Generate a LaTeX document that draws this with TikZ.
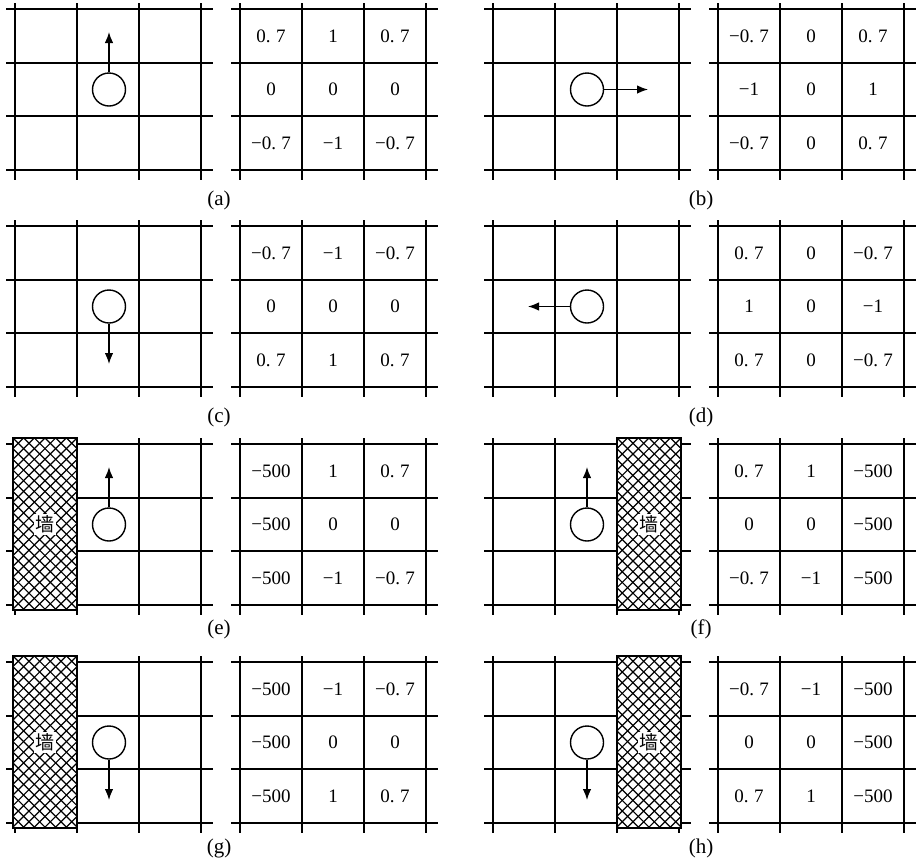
\documentclass[tikz,border=0pt]{standalone}
\usepackage{fontspec}
\setmainfont{Liberation Serif}
\newfontfamily\cjk{Noto Sans CJK SC}
\usetikzlibrary{arrows.meta}
\newcommand\sev{0.\kern0.28em7}
\newcommand\gridlines{\foreach \i/\yy in {0/0,1/54,2/107,3/161}{\draw[gridline] ({62*\i},-6) -- ({62*\i},171); \draw[gridline] (-9,\yy) -- (198,\yy);}}
\newcommand\tblrow[3]{\foreach \v [count=\i] in {#3}{\node[val] (#1-#2-\i) at ({31+62*(\i-1)},{27+53.67*(#2-1)}) {\v};}}
\newcommand\wallblock[2]{%
  \fill[white] (#1,-6) rectangle ++(64,172);
  \begin{scope}
    \clip (#1,-6) rectangle ++(64,172);
    \foreach \k in {-17,...,6}{%
      \draw[hatch] ({#1+10.7*\k},-6) -- ++(200,200);
      \draw[hatch] ({#1+64-10.7*\k},-6) -- ++(-200,200);}
  \end{scope}
  \draw[line width=1.5pt] (#1,-6) rectangle ++(64,172);
  \node[walltext] (#2) at ({#1+32},80.5) {墙};}
\begin{document}
\begin{tikzpicture}[x=1pt,y=-1pt,
  gridline/.style={line width=1.9pt},
  val/.style={font=\fontsize{19}{21}\selectfont, inner sep=0pt},
  lab/.style={font=\fontsize{21}{23}\selectfont, inner sep=0pt},
  agent/.style={circle, draw, line width=1.4pt, minimum size=33pt, inner sep=0pt},
  arr/.style={line width=1.3pt, -{Latex[length=11pt,width=8.5pt]}},
  hatch/.style={line width=1.2pt},
  walltext/.style={font=\cjk\fontsize{19}{21}\selectfont, fill=white, inner sep=1.5pt}]
\useasboundingbox (0,0) rectangle (916,863);

% ---------- (a)
\begin{scope}[shift={(15,9)}]
  \gridlines
  \node[agent] (ca) at (94,80.5) {};
  \coordinate (ta) at (94,23);
  \draw[arr] (ca) -- (ta);
\end{scope}
\begin{scope}[shift={(240,9)}]
  \gridlines
  \tblrow{va}{1}{\sev,1,\sev}
  \tblrow{va}{2}{0,0,0}
  \tblrow{va}{3}{−\sev,−1,−\sev}
\end{scope}
\node[lab] (la) at (219,200) {(a)};

% ---------- (b)
\begin{scope}[shift={(493,9)}]
  \gridlines
  \node[agent] (cb) at (94,80.5) {};
  \coordinate (tb) at (155,80.5);
  \draw[arr] (cb) -- (tb);
\end{scope}
\begin{scope}[shift={(718,9)}]
  \gridlines
  \tblrow{vb}{1}{−\sev,0,\sev}
  \tblrow{vb}{2}{−1,0,1}
  \tblrow{vb}{3}{−\sev,0,\sev}
\end{scope}
\node[lab] (lb) at (701,200) {(b)};

% ---------- (c)
\begin{scope}[shift={(15,226)}]
  \gridlines
  \node[agent] (cc) at (94,80.5) {};
  \coordinate (tc) at (94,138);
  \draw[arr] (cc) -- (tc);
\end{scope}
\begin{scope}[shift={(240,226)}]
  \gridlines
  \tblrow{vc}{1}{−\sev,−1,−\sev}
  \tblrow{vc}{2}{0,0,0}
  \tblrow{vc}{3}{\sev,1,\sev}
\end{scope}
\node[lab] (lc) at (219,417) {(c)};

% ---------- (d)
\begin{scope}[shift={(493,226)}]
  \gridlines
  \node[agent] (cd) at (94,80.5) {};
  \coordinate (td) at (35,80.5);
  \draw[arr] (cd) -- (td);
\end{scope}
\begin{scope}[shift={(718,226)}]
  \gridlines
  \tblrow{vd}{1}{\sev,0,−\sev}
  \tblrow{vd}{2}{1,0,−1}
  \tblrow{vd}{3}{\sev,0,−\sev}
\end{scope}
\node[lab] (ld) at (701,417) {(d)};

% ---------- (e)
\begin{scope}[shift={(15,444)}]
  \gridlines
  \wallblock{-2}{we}
  \node[agent] (ce) at (94,80.5) {};
  \coordinate (te) at (94,23);
  \draw[arr] (ce) -- (te);
\end{scope}
\begin{scope}[shift={(240,444)}]
  \gridlines
  \tblrow{ve}{1}{−500,1,\sev}
  \tblrow{ve}{2}{−500,0,0}
  \tblrow{ve}{3}{−500,−1,−\sev}
\end{scope}
\node[lab] (le) at (219,629) {(e)};

% ---------- (f)
\begin{scope}[shift={(493,444)}]
  \gridlines
  \wallblock{124}{wf}
  \node[agent] (cf) at (94,80.5) {};
  \coordinate (tf) at (94,23);
  \draw[arr] (cf) -- (tf);
\end{scope}
\begin{scope}[shift={(718,444)}]
  \gridlines
  \tblrow{vf}{1}{\sev,1,−500}
  \tblrow{vf}{2}{0,0,−500}
  \tblrow{vf}{3}{−\sev,−1,−500}
\end{scope}
\node[lab] (lf) at (701,629) {(f)};

% ---------- (g)
\begin{scope}[shift={(15,662)}]
  \gridlines
  \wallblock{-2}{wg}
  \node[agent] (cg) at (94,80.5) {};
  \coordinate (tg) at (94,138);
  \draw[arr] (cg) -- (tg);
\end{scope}
\begin{scope}[shift={(240,662)}]
  \gridlines
  \tblrow{vg}{1}{−500,−1,−\sev}
  \tblrow{vg}{2}{−500,0,0}
  \tblrow{vg}{3}{−500,1,\sev}
\end{scope}
\node[lab] (lg) at (219,848) {(g)};

% ---------- (h)
\begin{scope}[shift={(493,662)}]
  \gridlines
  \wallblock{124}{wh}
  \node[agent] (ch) at (94,80.5) {};
  \coordinate (th) at (94,138);
  \draw[arr] (ch) -- (th);
\end{scope}
\begin{scope}[shift={(718,662)}]
  \gridlines
  \tblrow{vh}{1}{−\sev,−1,−500}
  \tblrow{vh}{2}{0,0,−500}
  \tblrow{vh}{3}{\sev,1,−500}
\end{scope}
\node[lab] (lh) at (701,848) {(h)};
\end{tikzpicture}
\end{document}
